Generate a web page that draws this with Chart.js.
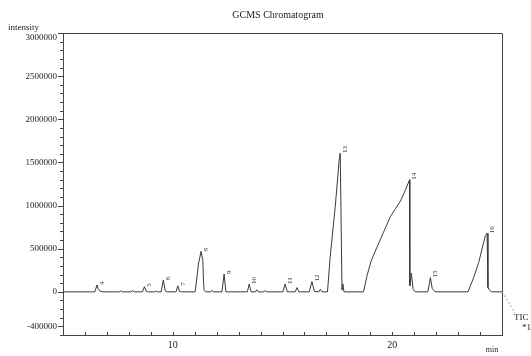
<!DOCTYPE html>
<html>
<head>
<meta charset="utf-8">
<script src="https://cdn.jsdelivr.net/npm/chart.js@4.4.0/dist/chart.umd.min.js"></script>
<style>
  html, body { margin: 0; padding: 0; background: #fff; }
</style>
</head>
<body>
<canvas id="gcms" width="531" height="356"></canvas>
<script>
// retention time (min) and intensity of the TIC trace
const times = [
  5.00, 6.45, 6.50, 6.55, 6.60, 6.68, 6.80, 7.58, 7.63, 7.70, 8.10, 8.16, 8.24,
  8.62, 8.71, 8.80, 8.90, 9.18, 9.24, 9.30, 9.47, 9.57, 9.66, 9.75,
  10.15, 10.23, 10.31, 10.40, 11.02, 11.10, 11.17, 11.29, 11.37, 11.40, 11.43, 11.50,
  11.72, 11.78, 11.85, 12.24, 12.34, 12.42, 13.40, 13.48, 13.57, 13.76, 13.83, 13.90,
  14.15, 14.21, 14.28, 15.02, 15.12, 15.22, 15.58, 15.66, 15.75, 16.22, 16.34, 16.45,
  16.65, 16.72, 16.80, 17.05, 17.17, 17.40, 17.58, 17.63, 17.71, 17.75, 17.80,
  18.69, 18.85, 19.04, 19.30, 19.60, 19.91, 20.15, 20.37, 20.59, 20.79, 20.80, 20.87, 20.95, 21.05,
  21.62, 21.74, 21.82, 21.95, 23.45, 23.71, 23.94, 24.09, 24.24, 24.32, 24.36, 24.43, 24.52, 25.00
];
const intensity = [
  0, 0, 40000, 80000, 40000, 10000, 0, 0, 12000, 0, 0, 15000, 0,
  0, 60000, 5000, 0, 0, 10000, 0, 0, 136000, 10000, 0,
  0, 70000, 5000, 0, 0, 166000, 322000, 469000, 360000, 128000, 20000, 0,
  0, 15000, 0, 0, 206000, 0, 0, 90000, 0, 0, 25000, 0,
  0, 15000, 0, 0, 90000, 0, 0, 50000, 0, 0, 120000, 5000,
  0, 30000, 0, 0, 399000, 980000, 1523000, 1608000, 20000, 93000, 0,
  0, 186000, 360000, 515000, 690000, 870000, 965000, 1050000, 1174000, 1299000, 70000, 217000, 30000, 0,
  0, 166000, 40000, 0, 0, 166000, 341000, 497000, 651000, 678000, 50000, 20000, 0, 0
];

// numbered peaks
const peakNames = ['4', '5', '6', '7', '8', '9', '10', '11', '12', '13', '14', '15', '16'];
const peakTimes = [6.55, 8.71, 9.57, 10.23, 11.29, 12.34, 13.48, 15.12, 16.34, 17.63, 20.79, 21.74, 24.32];
const peakHeights = [80000, 60000, 136000, 70000, 469000, 206000, 90000, 90000, 120000, 1608000, 1299000, 166000, 678000];

// labelled ticks
const yLabels = [3000000, 2500000, 2000000, 1500000, 1000000, 500000, 0, -400000];
const xLabels = [10, 20];

const serif = '"Liberation Serif", "DejaVu Serif", serif';

const decor = {
  id: 'decor',
  afterDraw(chart) {
    const c = chart.ctx;
    const a = chart.chartArea;
    const xs = chart.scales.x, ys = chart.scales.y;
    c.save();
    c.strokeStyle = '#444';
    c.lineWidth = 1;

    // frame top and right
    c.beginPath();
    c.moveTo(a.left, a.top + 0.5);
    c.lineTo(a.right + 0.5, a.top + 0.5);
    c.lineTo(a.right + 0.5, a.bottom);
    c.stroke();

    // x ticks, pointing inward
    c.beginPath();
    xs.ticks.forEach(t => {
      const px = Math.round(xs.getPixelForValue(t.value)) + 0.5;
      c.moveTo(px, a.bottom);
      c.lineTo(px, a.bottom - 3);
    });
    // y ticks, pointing outward
    ys.ticks.forEach(t => {
      const py = Math.round(ys.getPixelForValue(t.value)) + 0.5;
      const len = yLabels.includes(t.value) ? 5 : 3;
      c.moveTo(a.left, py);
      c.lineTo(a.left - len, py);
    });
    c.stroke();

    // y labels (top one kept inside the frame)
    c.fillStyle = '#222';
    c.font = '9px ' + serif;
    c.textAlign = 'right';
    c.textBaseline = 'middle';
    yLabels.forEach(v => {
      let py = ys.getPixelForValue(v);
      if (v === ys.max) py += 5;
      c.fillText(String(v), a.left - 6, py);
    });

    // peak numbers
    c.fillStyle = '#333';
    c.font = '7px ' + serif;
    c.textAlign = 'left';
    peakNames.forEach((n, i) => {
      const px = xs.getPixelForValue(peakTimes[i]) + 5;
      const py = ys.getPixelForValue(peakHeights[i]);
      c.save();
      c.translate(px, py);
      c.rotate(-Math.PI / 2);
      c.fillText(n, 0, 0);
      c.restore();
    });

    // dashed lead to TIC label
    const ex = xs.getPixelForValue(times[times.length - 1]);
    const ey = ys.getPixelForValue(intensity[intensity.length - 1]);
    c.setLineDash([2, 2]);
    c.strokeStyle = '#999';
    c.beginPath();
    c.moveTo(ex, ey);
    c.lineTo(ex + 13, ey + 21);
    c.stroke();
    c.setLineDash([]);

    // texts
    c.fillStyle = '#222';
    c.font = '10px ' + serif;
    c.textAlign = 'center';
    c.fillText('GCMS Chromatogram', 278, 15);
    c.font = '9px ' + serif;
    c.textAlign = 'left';
    c.fillText('intensity', 8, 28);
    c.fillText('TIC', 514, 318);
    c.fillText('*1', 522, 328);
    c.font = '8px ' + serif;
    c.textAlign = 'center';
    c.fillText('min', 492, 350);
    c.restore();
  }
};

new Chart(document.getElementById('gcms'), {
  type: 'scatter',
  data: {
    datasets: [{
      label: 'TIC',
      data: times.map((t, i) => ({ x: t, y: intensity[i] })),
      showLine: true,
      pointRadius: 0,
      borderColor: '#3a3a3a',
      borderWidth: 1,
      tension: 0
    }]
  },
  options: {
    responsive: false,
    animation: false,
    devicePixelRatio: 1,
    layout: { padding: { top: 33, right: 29, left: 0, bottom: 0 } },
    plugins: {
      legend: { display: false },
      tooltip: { enabled: false }
    },
    scales: {
      x: {
        type: 'linear',
        min: 5,
        max: 25,
        afterFit: s => { s.height = 21; },
        grid: { display: false, drawTicks: false },
        border: { display: true, color: '#444' },
        ticks: {
          stepSize: 1,
          maxTicksLimit: 100,
          autoSkip: false,
          maxRotation: 0,
          padding: 4,
          color: '#222',
          font: { family: serif, size: 10 },
          callback: v => xLabels.includes(v) ? String(v) : ''
        }
      },
      y: {
        min: -500000,
        max: 3000000,
        afterFit: s => { s.width = 63; },
        grid: { display: false, drawTicks: false },
        border: { display: true, color: '#444' },
        ticks: {
          stepSize: 100000,
          maxTicksLimit: 100,
          autoSkip: false,
          padding: 6,
          color: '#222',
          font: { family: serif, size: 9 },
          callback: () => ''
        }
      }
    }
  },
  plugins: [decor]
});
</script>
</body>
</html>
